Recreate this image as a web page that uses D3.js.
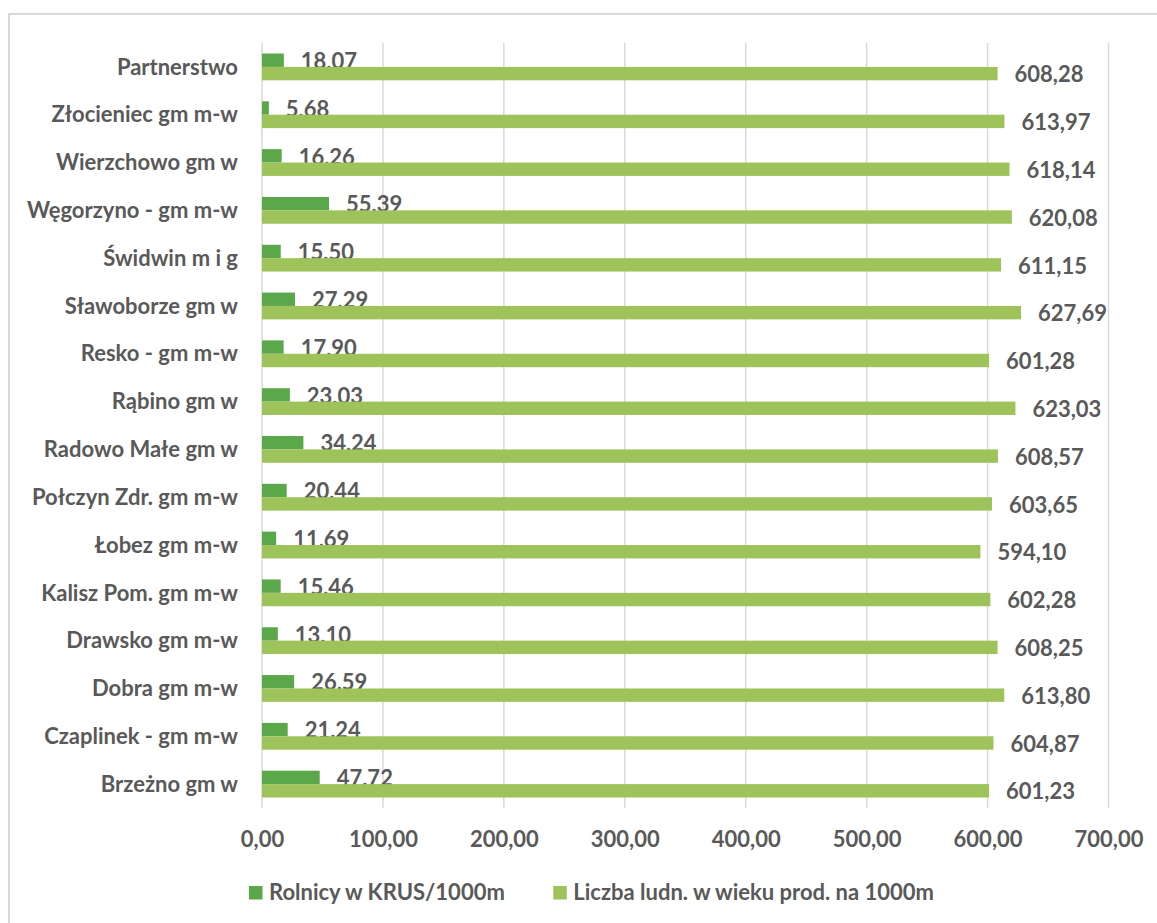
<!DOCTYPE html>
<html>
<head>
<meta charset="utf-8">
<script src="https://cdn.jsdelivr.net/npm/d3@7"></script>
<style>
  html, body { margin: 0; padding: 0; background: #ffffff; }
  svg { display: block; }
  text { font-family: Lato, "Open Sans", sans-serif; font-weight: 700; fill: #595959; }
</style>
</head>
<body>
<svg id="chart" width="1157" height="923"></svg>
<script>
// Data (top to bottom as displayed)
const categories = [
  "Partnerstwo", "Złocieniec gm m-w", "Wierzchowo gm w", "Węgorzyno - gm m-w",
  "Świdwin m i g", "Sławoborze gm w", "Resko - gm m-w", "Rąbino gm w",
  "Radowo Małe gm w", "Połczyn Zdr. gm m-w", "Łobez gm m-w", "Kalisz Pom. gm m-w",
  "Drawsko gm m-w", "Dobra gm m-w", "Czaplinek - gm m-w", "Brzeżno gm w"
];
const rolnicy = [18.07, 5.68, 16.26, 55.39, 15.50, 27.29, 17.90, 23.03,
                 34.24, 20.44, 11.69, 15.46, 13.10, 26.59, 21.24, 47.72];
const ludnosc = [608.28, 613.97, 618.14, 620.08, 611.15, 627.69, 601.28, 623.03,
                 608.57, 603.65, 594.10, 602.28, 608.25, 613.80, 604.87, 601.23];
const seriesNames = ["Rolnicy w KRUS/1000m", "Liczba ludn. w wieku prod. na 1000m"];
const tickValues = [0, 100, 200, 300, 400, 500, 600, 700];
const colors = ["#5ba84b", "#9dc35a"];

const fmt = v => v.toFixed(2).replace(".", ",");
const FS = "22px";

const svg = d3.select("#chart");

// chart border
svg.append("rect")
  .attr("x", 9).attr("y", 14)
  .attr("width", 1200).attr("height", 1000)
  .attr("fill", "#ffffff")
  .attr("stroke", "#d9d9d9").attr("stroke-width", 2);

const plot = { left: 262, right: 1108.5, top: 43, bottom: 808 };

const x = d3.scaleLinear().domain([0, 700]).range([plot.left, plot.right]);
const y = d3.scaleBand().domain(categories).range([plot.top, plot.bottom]).paddingInner(0).paddingOuter(0);
const barH = 13.4;

// gridlines
svg.append("g")
  .selectAll("line")
  .data(tickValues)
  .join("line")
  .attr("x1", d => x(d)).attr("x2", d => x(d))
  .attr("y1", plot.top).attr("y2", plot.bottom)
  .attr("stroke", "#d9d9d9").attr("stroke-width", 1.5);

// x axis tick labels
const xAxis = d3.axisBottom(x).tickValues(tickValues).tickFormat(fmt).tickSize(0).tickPadding(0);
const gx = svg.append("g").attr("transform", `translate(0,${plot.bottom})`).call(xAxis);
gx.select(".domain").remove();
gx.selectAll("text")
  .attr("y", 31).attr("dy", "0.35em")
  .style("font-size", FS).style("font-family", "Lato, 'Open Sans', sans-serif")
  .style("font-weight", 700).attr("fill", "#595959");

// y axis category labels
const yAxis = d3.axisLeft(y).tickSize(0).tickPadding(0);
const gy = svg.append("g").attr("transform", `translate(${plot.left},0)`).call(yAxis);
gy.select(".domain").remove();
gy.selectAll("text")
  .attr("x", -24).attr("dy", "0.35em")
  .style("font-size", FS).style("font-family", "Lato, 'Open Sans', sans-serif")
  .style("font-weight", 700).attr("fill", "#595959");

// bars
const groups = [rolnicy, ludnosc];
groups.forEach((vals, si) => {
  const offset = si === 0 ? -barH : 0;
  svg.append("g")
    .selectAll("rect")
    .data(vals)
    .join("rect")
    .attr("x", x(0))
    .attr("y", (d, i) => y(categories[i]) + y.bandwidth() / 2 + offset)
    .attr("width", d => x(d) - x(0))
    .attr("height", barH)
    .attr("fill", colors[si]);

  svg.append("g")
    .selectAll("text")
    .data(vals)
    .join("text")
    .attr("x", d => x(d) + 17)
    .attr("y", (d, i) => y(categories[i]) + y.bandwidth() / 2 + offset + barH / 2 + 1)
    .attr("dy", "0.35em")
    .style("font-size", FS)
    .attr("fill", "#595959")
    .text(d => fmt(d));
});

// legend
const legendItems = [
  { name: seriesNames[0], color: colors[0], x: 249 },
  { name: seriesNames[1], color: colors[1], x: 553.3 }
];
const lg = svg.append("g");
legendItems.forEach(it => {
  lg.append("rect")
    .attr("x", it.x).attr("y", 886)
    .attr("width", 13.5).attr("height", 13.5)
    .attr("fill", it.color);
  lg.append("text")
    .attr("x", it.x + 20).attr("y", 892.5)
    .attr("dy", "0.35em")
    .style("font-size", FS)
    .text(it.name);
});
</script>
</body>
</html>
